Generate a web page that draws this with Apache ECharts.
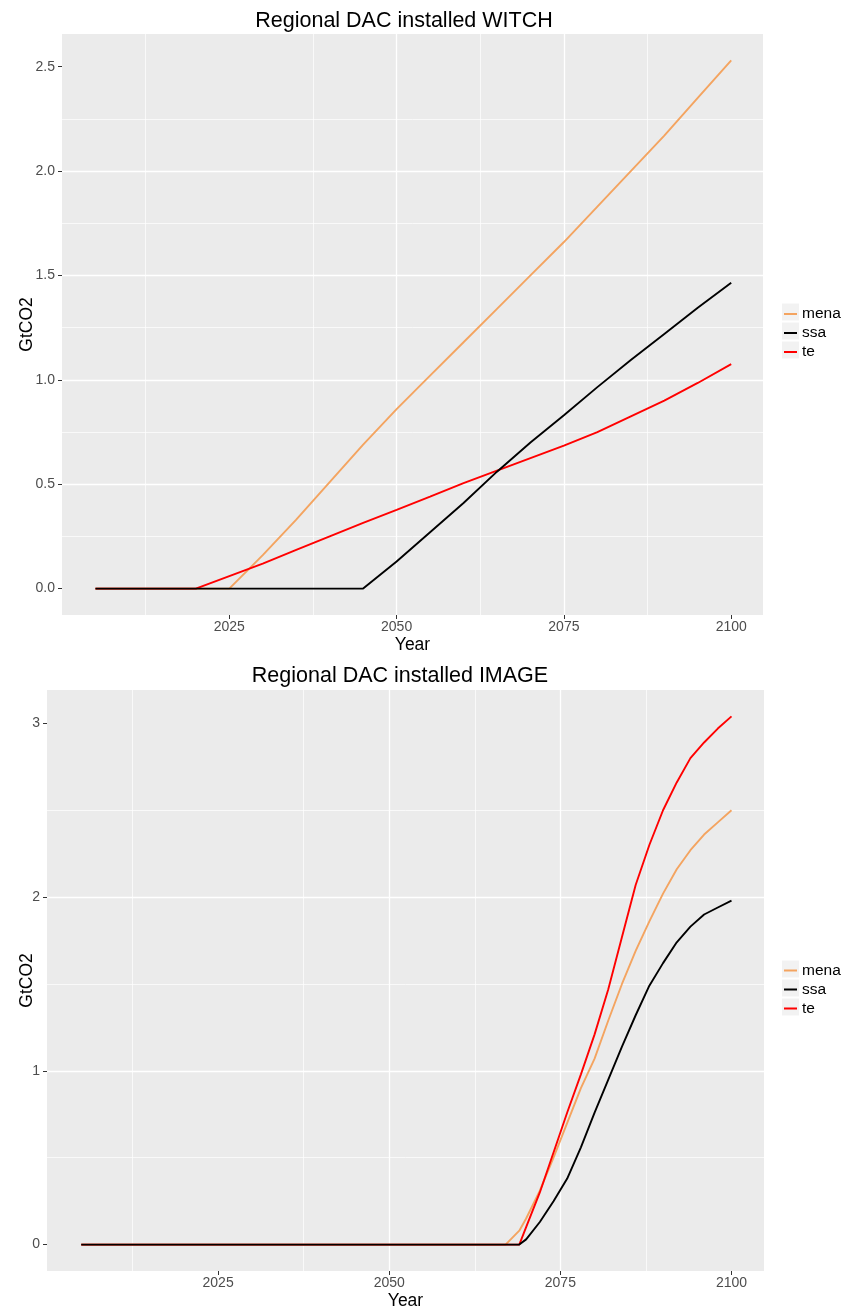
<!DOCTYPE html>
<html lang="en">
<head>
  <meta charset="UTF-8">
  <script src="https://cdn.jsdelivr.net/npm/echarts@6/dist/echarts.min.js"></script>
  <style>
    html, body { margin: 0; padding: 0; background: #fff; }
  </style>
</head>
<body>
  <div id="dacChart" style="width: 848px;height:1312px;"></div>

  <script type="text/javascript">
    // WITCH panel, 5-year steps
    var witchYears = [2005, 2010, 2015, 2020, 2025, 2030, 2035, 2040, 2045, 2050,
                      2055, 2060, 2065, 2070, 2075, 2080, 2085, 2090, 2095, 2100];
    var witchMena = [0, 0, 0, 0, 0, 0.16, 0.33, 0.51, 0.69, 0.86,
                     1.02, 1.18, 1.34, 1.50, 1.66, 1.83, 2.00, 2.17, 2.35, 2.53];
    var witchSsa  = [0, 0, 0, 0, 0, 0, 0, 0, 0, 0.13,
                     0.27, 0.41, 0.56, 0.70, 0.83, 0.965, 1.095, 1.22, 1.345, 1.465];
    var witchTe   = [0, 0, 0, 0, 0.06, 0.12, 0.185, 0.25, 0.315, 0.377,
                     0.44, 0.505, 0.565, 0.625, 0.685, 0.75, 0.825, 0.90, 0.985, 1.075];

    // IMAGE panel
    var imageYears = [2005, 2010, 2015, 2020, 2025, 2030, 2035, 2040, 2045, 2050, 2055, 2060, 2065,
                      2067, 2069, 2070, 2072, 2074, 2076, 2078, 2080, 2082, 2084, 2086, 2088,
                      2090, 2092, 2094, 2096, 2098, 2100];
    var imageMena = [0, 0, 0, 0, 0, 0, 0, 0, 0, 0, 0, 0, 0,
                     0, 0.08, 0.15, 0.31, 0.50, 0.70, 0.90, 1.07, 1.29, 1.50, 1.69, 1.86,
                     2.02, 2.16, 2.27, 2.36, 2.43, 2.50];
    var imageSsa  = [0, 0, 0, 0, 0, 0, 0, 0, 0, 0, 0, 0, 0,
                     0, 0, 0.03, 0.13, 0.25, 0.38, 0.56, 0.76, 0.95, 1.14, 1.32, 1.49,
                     1.62, 1.74, 1.83, 1.90, 1.94, 1.98];
    var imageTe   = [0, 0, 0, 0, 0, 0, 0, 0, 0, 0, 0, 0, 0,
                     0, 0, 0.10, 0.30, 0.53, 0.76, 0.98, 1.21, 1.47, 1.77, 2.07, 2.30,
                     2.50, 2.66, 2.80, 2.89, 2.97, 3.04];

    var regions = ['mena', 'ssa', 'te'];
    var regionColors = { mena: '#F4A460', ssa: '#000000', te: '#FF0000' };
    var xTicks = [2025, 2050, 2075, 2100];
    var witchYTicks = [0, 0.5, 1, 1.5, 2, 2.5];
    var imageYTicks = [0, 1, 2, 3];

    var FONT = '"Liberation Sans", Arial, Helvetica, sans-serif';

    function pairs(xs, ys) {
      return xs.map(function (x, i) { return [x, ys[i]]; });
    }

    // ggplot style 5% expansion
    function expand(arrs) {
      var all = [].concat.apply([], arrs);
      var lo = Math.min.apply(null, all), hi = Math.max.apply(null, all);
      var pad = (hi - lo) * 0.05;
      return [lo - pad, hi + pad];
    }

    var witchRange = expand([witchMena, witchSsa, witchTe]);
    var imageRange = expand([imageMena, imageSsa, imageTe]);
    var xMin = 2000, xMax = 2100 + (2100 - 2005) * 0.05;

    function xAxisFor(gridIndex) {
      return {
        type: 'value', gridIndex: gridIndex, position: 'bottom',
        min: xMin, max: xMax, interval: 25,
        name: 'Year', nameLocation: 'middle', nameGap: 21, nameMoveOverlap: false,
        nameTextStyle: { color: '#000', fontSize: 17.5, fontFamily: FONT },
        axisLine: { show: false, onZero: false },
        axisTick: { show: true, length: 4, lineStyle: { color: '#333', width: 1 }, customValues: xTicks },
        axisLabel: {
          color: '#4D4D4D', fontSize: 14, fontFamily: FONT, margin: 5, customValues: xTicks,
          formatter: function (v) { return String(v); }
        },
        splitLine: { show: true, showMinLine: false, showMaxLine: false, lineStyle: { color: '#fff', width: 1.3 } },
        minorTick: { show: false, splitNumber: 2 },
        minorSplitLine: { show: true, lineStyle: { color: '#fff', width: 0.7 } }
      };
    }

    function yAxisFor(gridIndex, range, ticks, gap, digits, splitNumber) {
      return {
        type: 'value', gridIndex: gridIndex,
        min: range[0], max: range[1], splitNumber: splitNumber,
        name: 'GtCO2', nameLocation: 'middle', nameGap: gap, nameRotate: 90, nameMoveOverlap: false,
        nameTextStyle: { color: '#000', fontSize: 17.5, fontFamily: FONT },
        axisLine: { show: false, onZero: false },
        axisTick: { show: true, length: 4, lineStyle: { color: '#333', width: 1 }, customValues: ticks },
        axisLabel: {
          color: '#4D4D4D', fontSize: 14, fontFamily: FONT, margin: 7, customValues: ticks,
          formatter: function (v) { return v.toFixed(digits); }
        },
        splitLine: { show: true, showMinLine: false, showMaxLine: false, lineStyle: { color: '#fff', width: 1.3 } },
        minorTick: { show: false, splitNumber: 2 },
        minorSplitLine: { show: true, lineStyle: { color: '#fff', width: 0.7 } }
      };
    }

    function lineSeries(name, idx, xs, ys) {
      return {
        name: name, type: 'line', xAxisIndex: idx, yAxisIndex: idx,
        data: pairs(xs, ys), showSymbol: false, symbol: 'none',
        lineStyle: { color: regionColors[name], width: 1.9 },
        itemStyle: { color: regionColors[name] },
        silent: true
      };
    }

    function legendFor(top) {
      return {
        orient: 'vertical', left: 784, top: top, padding: 0,
        data: regions, icon: 'rect', itemWidth: 13, itemHeight: 2,
        itemGap: 2, selectedMode: false,
        textStyle: { color: '#000', fontSize: 15.5, fontFamily: FONT, lineHeight: 17 }
      };
    }

    function keyBoxes(top) {
      return regions.map(function (r, i) {
        return {
          type: 'rect', left: 782, top: top + i * 19, z: -1,
          shape: { width: 17, height: 17 },
          style: { fill: '#F2F2F2' }
        };
      });
    }

    var chart = echarts.init(document.getElementById('dacChart'), null, { renderer: 'canvas' });

    var option = {
      animation: false,
      backgroundColor: '#fff',
      title: [
        { text: 'Regional DAC installed WITCH', left: 399, top: 5, textAlign: 'center',
          textStyle: { color: '#000', fontSize: 21.5, fontWeight: 'normal', fontFamily: FONT } },
        { text: 'Regional DAC installed IMAGE', left: 395, top: 660, textAlign: 'center',
          textStyle: { color: '#000', fontSize: 21.5, fontWeight: 'normal', fontFamily: FONT } }
      ],
      legend: [legendFor(305.5), legendFor(962)],
      graphic: keyBoxes(303.5).concat(keyBoxes(960.5)),
      grid: [
        { left: 62, top: 34, width: 701, height: 581, show: true, backgroundColor: '#EBEBEB', borderWidth: 0 },
        { left: 47, top: 690, width: 717, height: 581, show: true, backgroundColor: '#EBEBEB', borderWidth: 0 }
      ],
      xAxis: [xAxisFor(0), xAxisFor(1)],
      yAxis: [
        yAxisFor(0, witchRange, witchYTicks, 25.5, 1, 5),
        yAxisFor(1, imageRange, imageYTicks, 10.5, 0, 4)
      ],
      series: [
        lineSeries('mena', 0, witchYears, witchMena),
        lineSeries('te', 0, witchYears, witchTe),
        lineSeries('ssa', 0, witchYears, witchSsa),
        lineSeries('mena', 1, imageYears, imageMena),
        lineSeries('te', 1, imageYears, imageTe),
        lineSeries('ssa', 1, imageYears, imageSsa)
      ]
    };

    chart.setOption(option);
  </script>
</body>
</html>
